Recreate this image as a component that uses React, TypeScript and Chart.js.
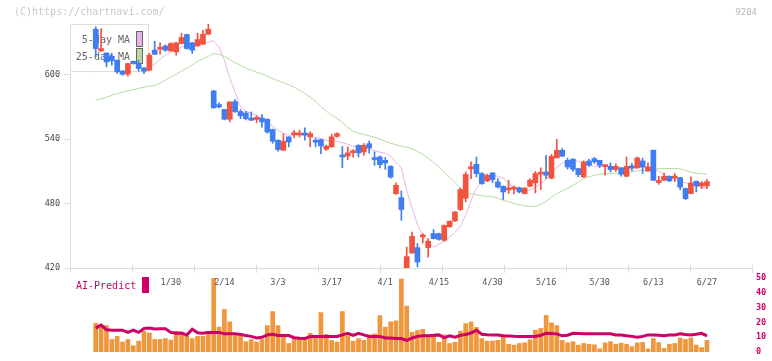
import React, { useEffect, useRef } from 'react';
import { Chart, registerables } from 'chart.js';
Chart.register(...registerables);

const openP = [
  642.6, 622.4, 620.5, 617.5, 613.7, 603.7, 600.7, 612.8, 610.6, 606.5,
  604.4, 623.1, 624.0, 627.0, 622.4, 621.5, 629.3, 637.7, 629.9, 627.1,
  628.6, 638.0, 585.1, 572.4, 567.9, 558.7, 575.1, 565.9, 564.5, 559.8,
  558.5, 559.8, 558.7, 549.1, 539.1, 529.8, 542.2, 544.3, 544.0, 545.9,
  542.2, 539.1, 539.7, 530.7, 532.9, 542.7, 525.5, 524.4, 527.5, 534.3,
  528.2, 535.9, 522.6, 523.5, 520.4, 514.8, 489.3, 485.6, 416.0, 434.0,
  439.0, 449.0, 439.0, 452.1, 452.0, 445.8, 458.4, 463.9, 474.5, 485.0,
  512.4, 516.7, 508.0, 501.2, 508.6, 500.2, 496.2, 492.8, 493.5, 494.8,
  489.4, 496.2, 499.3, 507.5, 509.5, 503.7, 522.6, 529.8, 520.4, 521.4,
  512.7, 504.9, 519.8, 522.0, 520.4, 514.5, 514.8, 511.8, 513.3, 505.5,
  514.8, 513.3, 519.8, 510.4, 529.8, 499.7, 501.8, 505.5, 503.8, 504.3,
  494.1, 489.4, 500.9, 496.5, 496.5,
];
const highP = [
  644.8, 643.3, 620.5, 620.2, 614.0, 604.0, 611.0, 613.0, 613.7, 607.0,
  620.3, 631.4, 629.9, 628.0, 630.0, 630.5, 638.9, 638.0, 630.5, 639.0,
  641.7, 647.5, 585.7, 573.9, 568.0, 575.0, 577.0, 567.7, 566.0, 565.5,
  562.0, 563.0, 559.0, 549.5, 539.5, 545.0, 542.5, 548.4, 548.4, 550.6,
  547.0, 541.0, 540.0, 534.7, 544.7, 546.0, 533.4, 532.9, 530.5, 535.0,
  536.0, 538.4, 528.2, 524.7, 523.0, 515.5, 499.3, 491.9, 439.6, 453.6,
  442.7, 452.1, 447.4, 455.8, 452.5, 460.0, 464.0, 472.5, 494.5, 509.5,
  518.9, 523.5, 509.0, 507.5, 509.0, 503.4, 496.5, 501.8, 496.5, 495.4,
  495.0, 503.4, 510.0, 513.4, 525.1, 526.0, 540.0, 531.4, 522.5, 522.0,
  513.0, 520.0, 521.3, 523.0, 520.5, 515.9, 518.0, 517.0, 513.5, 523.5,
  517.5, 523.5, 522.5, 518.0, 530.0, 505.5, 508.6, 506.0, 508.0, 504.5,
  494.5, 504.9, 501.0, 500.5, 502.7,
];
const lowP = [
  616.8, 622.0, 607.5, 609.1, 601.5, 599.7, 598.8, 610.0, 603.5, 601.3,
  604.0, 619.0, 619.3, 622.0, 622.0, 618.4, 629.0, 624.0, 620.0, 626.5,
  628.6, 637.5, 569.0, 569.2, 558.0, 556.2, 565.0, 559.3, 558.0, 557.5,
  555.5, 551.2, 545.6, 536.3, 529.0, 529.8, 532.9, 541.6, 542.0, 539.1,
  532.9, 532.9, 526.7, 529.5, 532.5, 542.0, 513.6, 521.0, 523.4, 523.5,
  525.0, 527.0, 515.8, 513.4, 512.0, 503.6, 488.5, 464.5, 414.0, 433.5,
  420.9, 443.3, 430.2, 447.0, 446.0, 445.0, 458.0, 463.5, 473.5, 481.6,
  503.4, 504.9, 498.0, 500.5, 499.7, 494.5, 483.8, 489.4, 489.0, 490.0,
  489.0, 495.5, 490.0, 493.1, 503.4, 503.0, 522.6, 524.0, 512.2, 510.0,
  505.0, 504.5, 514.8, 517.5, 513.5, 506.5, 509.4, 510.0, 505.6, 505.0,
  510.8, 513.0, 508.1, 510.0, 501.5, 498.0, 501.5, 500.5, 500.5, 493.1,
  483.8, 489.0, 490.9, 494.0, 494.0,
];
const closeP = [
  624.6, 624.6, 612.1, 613.1, 602.8, 600.7, 610.6, 610.6, 606.0, 603.5,
  618.4, 619.3, 624.6, 623.1, 629.3, 629.9, 634.9, 624.6, 623.1, 633.0,
  638.0, 642.6, 569.3, 570.2, 558.7, 574.8, 565.9, 561.9, 559.3, 557.8,
  559.0, 556.2, 546.8, 538.2, 530.4, 538.2, 537.5, 545.0, 545.5, 543.8,
  545.3, 537.3, 533.8, 533.5, 542.2, 545.3, 523.5, 527.3, 528.0, 527.3,
  534.3, 531.9, 521.1, 516.4, 517.9, 504.8, 497.1, 474.6, 430.6, 449.5,
  425.6, 450.0, 444.9, 447.4, 446.7, 459.7, 463.6, 472.3, 493.1, 507.3,
  514.5, 508.0, 498.7, 506.5, 502.4, 495.5, 490.9, 493.5, 494.2, 490.9,
  494.5, 501.8, 508.0, 508.0, 506.5, 524.2, 529.8, 524.2, 514.2, 512.0,
  507.1, 518.9, 515.8, 519.0, 515.8, 514.9, 511.8, 514.8, 507.4, 514.8,
  513.3, 522.6, 514.2, 514.2, 501.8, 500.4, 505.5, 501.2, 504.4, 495.5,
  484.7, 499.3, 496.5, 499.3, 500.5,
];
const ma5 = [
  602.5, 606.3, 610.0, 611.9, 611.9, 610.0, 609.1, 608.1, 607.2, 606.3,
  607.2, 610.0, 614.6, 618.4, 621.2, 624.0, 625.8, 627.7, 628.6, 629.1,
  629.6, 630.5, 631.9, 625.8, 613.7, 596.9, 583.9, 569.9, 566.2, 564.3,
  562.4, 559.6, 555.9, 552.2, 548.4, 545.6, 543.8, 543.8, 544.7, 544.7,
  542.8, 541.9, 541.0, 539.1, 538.2, 538.2, 536.8, 535.4, 533.5, 532.6,
  531.6, 530.7, 529.3, 527.9, 527.0, 524.2, 518.6, 513.0, 492.5, 475.7,
  460.8, 450.5, 444.0, 439.3, 442.1, 444.9, 448.6, 453.3, 458.9, 469.2,
  483.1, 494.3, 499.9, 503.7, 506.5, 505.5, 503.7, 499.0, 495.3, 493.4,
  492.0, 492.5, 495.3, 499.0, 502.7, 508.3, 513.9, 517.6, 519.5, 520.4,
  519.5, 517.6, 515.8, 514.9, 514.9, 514.9, 514.9, 513.9, 513.5, 513.0,
  513.0, 513.5, 514.2, 513.9, 513.0, 510.2, 507.4, 504.6, 502.7, 500.9,
  499.5, 498.1, 496.7, 495.3, 494.3,
];
const ma25 = [
  576.4, 577.8, 579.2, 581.1, 582.5, 583.9, 585.3, 586.2, 587.6, 588.5,
  589.5, 590.4, 592.3, 595.1, 597.9, 600.7, 603.5, 606.3, 609.5, 612.8,
  615.1, 617.4, 619.8, 619.3, 617.4, 614.2, 611.4, 609.1, 606.3, 604.4,
  602.5, 601.1, 598.8, 596.5, 594.6, 592.7, 590.9, 588.5, 585.7, 582.9,
  579.2, 575.5, 570.8, 566.2, 562.4, 559.6, 555.9, 551.2, 547.5, 545.6,
  544.7, 543.3, 541.9, 540.0, 538.2, 536.3, 534.9, 533.5, 532.6, 531.2,
  528.8, 526.0, 522.3, 518.6, 513.9, 509.3, 504.6, 499.9, 494.3, 490.6,
  489.2, 488.3, 487.3, 486.9, 486.4, 485.0, 483.1, 481.7, 480.3, 478.9,
  478.0, 477.5, 477.5, 479.4, 482.2, 485.9, 489.2, 492.0, 494.3, 497.1,
  499.9, 503.2, 505.1, 506.5, 507.4, 507.9, 508.0, 508.3, 508.5, 508.8,
  509.7, 510.7, 511.3, 511.9, 512.2, 512.6, 512.7, 512.7, 512.7, 512.5,
  511.1, 509.3, 508.3, 507.9, 507.4,
];
const volume = [
  19.3, 17.4, 17.8, 8.4, 10.5, 6.7, 8.4, 4.2, 7.3, 14.0,
  12.8, 8.4, 8.4, 9.0, 8.0, 14.0, 13.2, 10.5, 9.0, 10.5,
  10.5, 13.2, 49.9, 16.8, 28.7, 20.3, 11.1, 10.5, 6.9, 8.4,
  6.7, 8.4, 17.8, 27.3, 17.8, 10.5, 5.7, 8.4, 8.4, 8.4,
  12.6, 9.4, 26.6, 11.9, 7.8, 6.7, 27.3, 10.9, 7.3, 9.0,
  7.8, 11.5, 12.2, 24.5, 16.8, 20.3, 21.0, 49.3, 31.0, 13.2,
  14.5, 15.3, 11.1, 11.1, 6.5, 11.5, 5.7, 6.5, 14.0, 19.1,
  20.3, 16.6, 9.0, 7.3, 7.3, 7.8, 11.5, 5.2, 4.6, 5.7,
  6.1, 8.2, 14.7, 15.9, 24.7, 19.7, 17.8, 7.8, 6.1, 6.9,
  4.6, 5.7, 5.2, 4.8, 2.1, 6.1, 6.9, 5.2, 5.9, 5.2,
  3.6, 6.1, 6.5, 2.1, 9.0, 6.3, 2.3, 5.2, 5.7, 9.4,
  8.4, 9.4, 4.6, 2.9, 7.8,
];
const aiPredict = [
  16.1, 18.2, 15.0, 14.7, 14.7, 14.7, 13.2, 14.7, 13.2, 15.8,
  16.1, 15.5, 15.6, 15.7, 13.2, 12.6, 12.8, 11.4, 15.4, 13.0,
  12.6, 13.2, 13.2, 13.2, 12.2, 12.2, 12.2, 11.8, 11.1, 10.5,
  9.4, 9.9, 11.5, 11.9, 11.1, 11.1, 11.1, 9.6, 9.2, 9.0,
  10.5, 10.5, 10.5, 10.5, 10.5, 10.5, 11.5, 12.6, 11.1, 12.6,
  11.5, 10.5, 10.5, 10.5, 9.4, 9.4, 9.0, 9.0, 7.8, 9.4,
  10.5, 10.9, 11.0, 11.2, 11.5, 9.6, 10.9, 9.9, 11.2, 11.8,
  12.8, 14.7, 11.9, 11.6, 11.5, 11.5, 10.9, 10.8, 10.6, 10.5,
  10.5, 10.5, 10.5, 11.2, 12.6, 12.4, 12.2, 10.9, 11.3, 12.6,
  12.5, 12.3, 12.2, 12.2, 12.2, 12.2, 12.2, 11.5, 11.5, 10.9,
  10.5, 9.9, 10.5, 11.5, 11.5, 11.2, 10.9, 11.5, 11.5, 12.2,
  11.8, 11.5, 12.0, 12.6, 10.9,
];
const tickIndex = [14, 24, 34, 44, 54, 64, 74, 84, 94, 104, 114];
const tickLabels = ['1/30', '2/14', '3/3', '3/17', '4/1', '4/15', '4/30', '5/16', '5/30', '6/13', '6/27'];
const priceTicks = [420, 480, 540, 600];
const volTicks = [0, 10, 20, 30, 40, 50];

const MONO = '"DejaVu Sans Mono", monospace';
const UP = '#f2533f';
const DOWN = '#3f7df0';
const MA5C = '#e6b3e6';
const MA25C = '#b5dba3';
const VOLC = '#f0963c';
const AIC = '#cc0066';
const X_MIN = -4.8;
const X_MAX = 122.4;

export default function App() {
  const mainRef = useRef<HTMLCanvasElement>(null);
  const volRef = useRef<HTMLCanvasElement>(null);

  useEffect(() => {
    document.body.style.margin = '0';
    const idx = openP.map((_, i) => i);
    const colors = idx.map((i) => (closeP[i] >= openP[i] ? UP : DOWN));

    const mainDecor = {
      id: 'mainDecor',
      afterDatasetDraw(chart: any, args: any) {
        if (args.index !== 1) return;
        const ctx = chart.ctx;
        const ds = chart.data.datasets;
        ctx.save();
        ctx.fillStyle = '#ffffff';
        ctx.fillRect(70.5, 24.5, 78, 47);
        ctx.strokeStyle = '#dddddd';
        ctx.lineWidth = 1;
        ctx.strokeRect(70.5, 24.5, 78, 47);
        ctx.font = `10px ${MONO}`;
        ctx.fillStyle = '#666666';
        ctx.textAlign = 'right';
        ctx.textBaseline = 'middle';
        ctx.fillText(ds[1].label, 130, 40);
        ctx.fillText(ds[0].label, 130, 57);
        ctx.strokeStyle = '#666666';
        ctx.fillStyle = MA5C;
        ctx.fillRect(136.5, 31.5, 6, 15);
        ctx.strokeRect(136.5, 31.5, 6, 15);
        ctx.fillStyle = MA25C;
        ctx.fillRect(136.5, 48.5, 6, 15);
        ctx.strokeRect(136.5, 48.5, 6, 15);
        ctx.restore();
      },
      afterDraw(chart: any) {
        const { ctx, chartArea } = chart;
        ctx.save();
        ctx.font = `10px ${MONO}`;
        ctx.fillStyle = '#c8c8c8';
        ctx.textAlign = 'left';
        ctx.textBaseline = 'middle';
        ctx.fillText('(C)https://chartnavi.com/', 14, 12.5);
        ctx.font = `9px ${MONO}`;
        ctx.fillStyle = '#b8b8b8';
        ctx.textAlign = 'right';
        ctx.fillText('9204', 757, 12.5);
        ctx.strokeStyle = '#dddddd';
        ctx.lineWidth = 1;
        const w = chartArea.right - chartArea.left;
        for (let k = 0; k <= 11; k++) {
          const x = Math.round(chartArea.left + (k * w) / 11) + 0.5;
          ctx.beginPath();
          ctx.moveTo(x, chartArea.bottom - 3);
          ctx.lineTo(x, chartArea.bottom + 5);
          ctx.stroke();
        }
        ctx.restore();
      },
    };

    const volDecor = {
      id: 'volDecor',
      afterDraw(chart: any) {
        const ctx = chart.ctx;
        ctx.save();
        ctx.font = `10px ${MONO}`;
        ctx.fillStyle = AIC;
        ctx.textAlign = 'left';
        ctx.textBaseline = 'middle';
        ctx.fillText(chart.data.datasets[0].label, 76, 286);
        ctx.fillRect(142, 277, 7, 16);
        ctx.restore();
      },
    };

    const main = new Chart(mainRef.current as HTMLCanvasElement, {
      type: 'bar',
      data: {
        datasets: [
          {
            type: 'line',
            label: '25-day MA',
            data: idx.map((i) => ({ x: i, y: ma25[i] })),
            borderColor: MA25C,
            borderWidth: 1,
            pointRadius: 0,
            order: 5,
          } as any,
          {
            type: 'line',
            label: '5-day MA',
            data: idx.map((i) => ({ x: i, y: ma5[i] })),
            borderColor: MA5C,
            borderWidth: 1,
            pointRadius: 0,
            order: 4,
          } as any,
          {
            type: 'bar',
            label: 'wick',
            data: idx.map((i) => ({ x: i, y: [lowP[i], highP[i]] })),
            backgroundColor: colors,
            barThickness: 1,
            grouped: false,
            order: 2,
          } as any,
          {
            type: 'bar',
            label: 'body',
            data: idx.map((i) => ({ x: i, y: [openP[i], closeP[i]] })),
            backgroundColor: colors,
            barThickness: 5,
            minBarLength: 2,
            grouped: false,
            order: 1,
          } as any,
        ],
      },
      options: {
        animation: false,
        responsive: false,
        devicePixelRatio: 1,
        events: [],
        layout: { padding: { top: 24, right: 20, left: 0, bottom: 0 } },
        plugins: { legend: { display: false }, tooltip: { enabled: false } },
        scales: {
          x: {
            type: 'linear',
            offset: false,
            min: X_MIN,
            max: X_MAX,
            afterBuildTicks: (s: any) => {
              s.ticks = tickIndex.map((v) => ({ value: v }));
            },
            afterFit: (s: any) => {
              s.height = 93;
            },
            ticks: {
              autoSkip: false,
              maxRotation: 0,
              padding: 10,
              color: '#555555',
              font: { family: MONO, size: 8.5 },
              callback: (v: any) => {
                const k = tickIndex.indexOf(Number(v));
                return k >= 0 ? tickLabels[k] : '';
              },
            },
            grid: { display: false, drawTicks: false },
            border: { display: true, color: '#dddddd' },
          },
          y: {
            type: 'linear',
            min: 420,
            max: 647.5,
            afterBuildTicks: (s: any) => {
              s.ticks = priceTicks.map((v) => ({ value: v }));
            },
            afterFit: (s: any) => {
              s.width = 70;
            },
            ticks: { color: '#444444', padding: 4, font: { family: MONO, size: 8.5 } },
            grid: { display: true, drawOnChartArea: false, drawTicks: true, tickLength: 6, color: '#dddddd' },
            border: { display: true, color: '#dddddd' },
          },
        },
      } as any,
      plugins: [mainDecor],
    });

    const vol = new Chart(volRef.current as HTMLCanvasElement, {
      type: 'bar',
      data: {
        datasets: [
          {
            type: 'line',
            label: 'AI-Predict',
            data: idx.map((i) => ({ x: i, y: aiPredict[i] })),
            borderColor: AIC,
            borderWidth: 3,
            pointRadius: 0,
            order: 1,
          } as any,
          {
            type: 'bar',
            label: 'volume',
            data: idx.map((i) => ({ x: i, y: volume[i] })),
            backgroundColor: VOLC,
            barThickness: 4,
            order: 2,
          } as any,
        ],
      },
      options: {
        animation: false,
        responsive: false,
        devicePixelRatio: 1,
        events: [],
        layout: { padding: { top: 278, right: 0, left: 70, bottom: 3 } },
        plugins: { legend: { display: false }, tooltip: { enabled: false } },
        scales: {
          x: { type: 'linear', offset: false, min: X_MIN, max: X_MAX, display: false },
          y: {
            type: 'linear',
            position: 'right',
            min: 0,
            max: 50,
            afterBuildTicks: (s: any) => {
              s.ticks = volTicks.map((v) => ({ value: v }));
            },
            afterFit: (s: any) => {
              s.width = 20;
            },
            ticks: { color: AIC, padding: 4, font: { family: MONO, size: 8.5, weight: 'bold' } },
            grid: { display: false, drawTicks: false },
            border: { display: false },
          },
        },
      } as any,
      plugins: [volDecor],
    });

    return () => {
      main.destroy();
      vol.destroy();
    };
  }, []);

  return (
    <div style={{ position: 'relative', width: 772, height: 361 }}>
      <canvas ref={volRef} width={772} height={361} style={{ position: 'absolute', left: 0, top: 0 }} />
      <canvas ref={mainRef} width={772} height={361} style={{ position: 'absolute', left: 0, top: 0 }} />
    </div>
  );
}
